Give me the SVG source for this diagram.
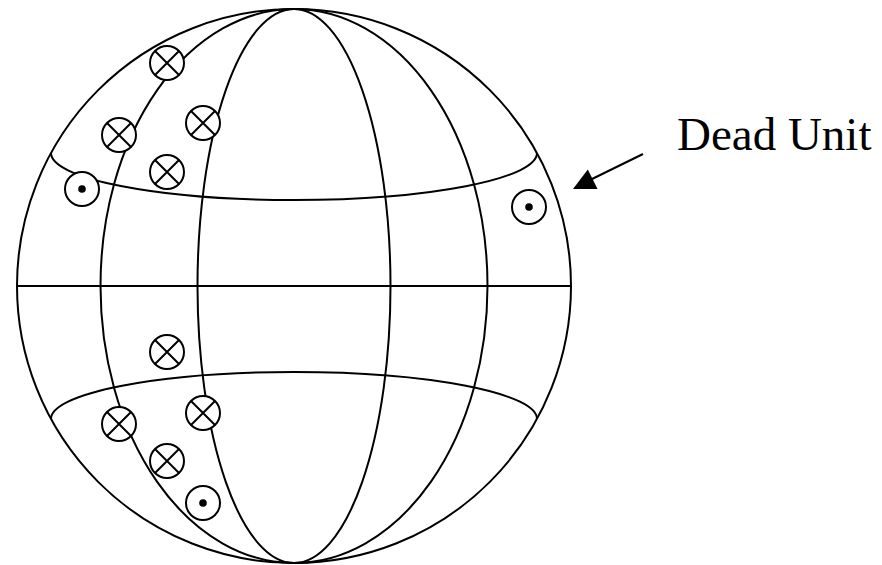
<svg xmlns="http://www.w3.org/2000/svg" xmlns:xlink="http://www.w3.org/1999/xlink" width="882" height="565" viewBox="0 0 882 565">
<style>
.ln{fill:none;stroke:#000;stroke-width:2}
.mk{fill:#fff;stroke:#000;stroke-width:2}
.lbl{font-family:"Liberation Serif","Times New Roman",serif;font-size:47px;fill:#000}
</style>
<defs>
<g id="cross">
<circle class="mk" cx="0" cy="0" r="17"/>
<path class="ln" d="M-12,-12 L12,12 M-12,12 L12,-12"/>
</g>
<g id="dot">
<circle class="mk" cx="0" cy="0" r="17"/>
<circle cx="0" cy="0" r="3.8" fill="#000"/>
</g>
</defs>
<rect width="882" height="565" fill="#fff"/>
<g id="sphere">
<circle class="ln" cx="294" cy="286" r="277"/>
<ellipse class="ln" cx="294" cy="286" rx="96.5" ry="277"/>
<ellipse class="ln" cx="294" cy="286" rx="193.5" ry="277"/>
<path class="ln" d="M17,286 L571,286"/>
<path class="ln" d="M51,153 A243,47 0 0 0 537,153"/>
<path class="ln" d="M51,419 A243,47 0 0 1 537,419"/>
</g>
<g id="units">
<g id="u1"><use xlink:href="#cross" x="167" y="63"/></g>
<g id="u2"><use xlink:href="#cross" x="119" y="135"/></g>
<g id="u3"><use xlink:href="#cross" x="203" y="123"/></g>
<g id="u4"><use xlink:href="#cross" x="167" y="172"/></g>
<g id="u5"><use xlink:href="#dot" x="82" y="189"/></g>
<g id="u6"><use xlink:href="#dot" x="529" y="207"/></g>
<g id="u7"><use xlink:href="#cross" x="167" y="352"/></g>
<g id="u8"><use xlink:href="#cross" x="119" y="424"/></g>
<g id="u9"><use xlink:href="#cross" x="203" y="413"/></g>
<g id="u10"><use xlink:href="#cross" x="167" y="461"/></g>
<g id="u11"><use xlink:href="#dot" x="203" y="503"/></g>
</g>
<g id="connectors">
<path class="ln" d="M643,154 L590,180"/>
<polygon points="573,189 587.8,169.4 597.6,189" fill="#000"/>
</g>
<g id="label">
<text class="lbl" x="677" y="150">Dead Unit</text>
</g>
</svg>
